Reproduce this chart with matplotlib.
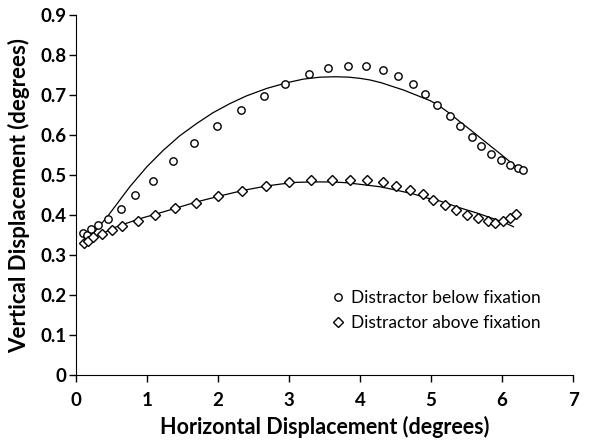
import matplotlib.pyplot as plt
import numpy as np

# Distractor below fixation (circles)
below_x = [0.10, 0.15, 0.22, 0.31, 0.45, 0.63, 0.83, 1.08, 1.37, 1.67, 1.99, 2.32, 2.65,
           2.94, 3.28, 3.55, 3.83, 4.09, 4.32, 4.53, 4.74, 4.92, 5.09, 5.26, 5.41,
           5.57, 5.71, 5.85, 5.99, 6.11, 6.22, 6.29]
below_y = [0.355, 0.350, 0.366, 0.375, 0.390, 0.416, 0.450, 0.486, 0.536, 0.581, 0.624,
           0.663, 0.698, 0.729, 0.754, 0.769, 0.774, 0.772, 0.764, 0.749, 0.727, 0.704,
           0.676, 0.649, 0.623, 0.596, 0.573, 0.554, 0.539, 0.525, 0.518, 0.513]

# Distractor above fixation (diamonds)
above_x = [0.12, 0.17, 0.24, 0.37, 0.51, 0.65, 0.87, 1.12, 1.39, 1.69, 2.00, 2.34, 2.68,
           3.00, 3.31, 3.60, 3.86, 4.10, 4.32, 4.51, 4.71, 4.88, 5.03, 5.20, 5.35, 5.50,
           5.66, 5.80, 5.90, 6.02, 6.11, 6.19]
above_y = [0.330, 0.336, 0.345, 0.354, 0.363, 0.372, 0.386, 0.400, 0.418, 0.431, 0.447,
           0.460, 0.474, 0.482, 0.488, 0.489, 0.489, 0.488, 0.482, 0.473, 0.464, 0.452,
           0.438, 0.425, 0.412, 0.401, 0.393, 0.386, 0.381, 0.386, 0.392, 0.402]

# fitted curves
fit_below_x = [0.11, 0.46, 0.76, 1.00, 1.23, 1.46, 1.70, 1.93, 2.17, 2.40, 2.69, 2.97,
               3.20, 3.44, 3.65, 3.84, 4.00, 4.14, 4.30, 4.47, 4.61, 4.85, 4.99, 5.10,
               5.25, 5.41, 5.57, 5.73, 5.85, 5.97, 6.06, 6.14, 6.23]
fit_below_y = [0.325, 0.400, 0.471, 0.521, 0.562, 0.598, 0.629, 0.656, 0.679, 0.698,
               0.717, 0.731, 0.740, 0.745, 0.746, 0.745, 0.742, 0.738, 0.731, 0.721,
               0.713, 0.696, 0.686, 0.675, 0.656, 0.633, 0.611, 0.588, 0.571, 0.554,
               0.541, 0.529, 0.517]
fit_above_x = [0.12, 0.30, 0.53, 0.88, 1.23, 1.70, 2.03, 2.36, 2.69, 2.90, 3.11, 3.34,
               3.60, 3.81, 4.00, 4.28, 4.47, 4.75, 4.94, 5.13, 5.41, 5.65, 5.88, 6.05,
               6.16]
fit_above_y = [0.325, 0.347, 0.368, 0.390, 0.408, 0.433, 0.448, 0.462, 0.473, 0.478,
               0.482, 0.483, 0.483, 0.481, 0.477, 0.471, 0.464, 0.453, 0.443, 0.435,
               0.418, 0.405, 0.391, 0.380, 0.371]

fig = plt.figure(figsize=(6.02, 4.46), dpi=100)
ax = fig.add_axes([0.126, 0.159, 0.826, 0.807])

ax.plot(fit_below_x, fit_below_y, color='black', lw=0.9)
ax.plot(fit_above_x, fit_above_y, color='black', lw=0.9)

ax.plot(below_x, below_y, 'o', mfc='white', mec='black', mew=1.0, ms=5.3,
        label='Distractor below fixation')
ax.plot(above_x, above_y, 'D', mfc='white', mec='black', mew=1.0, ms=4.8,
        label='Distractor above fixation')

ax.set_xlim(0, 7)
ax.set_ylim(0, 0.9)
ax.set_xticks(range(8))
ax.set_yticks(np.arange(0, 0.91, 0.1))
ax.set_yticklabels(['0'] + ['%.1f' % v for v in np.arange(0.1, 0.91, 0.1)])
ax.spines['top'].set_visible(False)
ax.spines['right'].set_visible(False)
ax.tick_params(direction='out', length=5, width=1, labelsize=13.5)
ax.tick_params(axis='x', pad=7)
ax.tick_params(axis='y', pad=2)
for lab in ax.get_xticklabels() + ax.get_yticklabels():
    lab.set_fontfamily('Lato')
    lab.set_fontweight('bold')

ax.set_xlabel('Horizontal Displacement (degrees)', fontsize=15.5, fontweight='bold',
              fontfamily='Lato', labelpad=5)
ax.set_ylabel('Vertical Displacement (degrees)', fontsize=16, fontweight='bold',
              fontfamily='Lato', labelpad=7)

ax.legend(loc='upper left', bbox_to_anchor=(0.48, 0.28), frameon=False,
          handlelength=0.9, handletextpad=0.3, labelspacing=0.55,
          prop={'family': 'Lato', 'size': 12.5})

fig.savefig('out.png')
